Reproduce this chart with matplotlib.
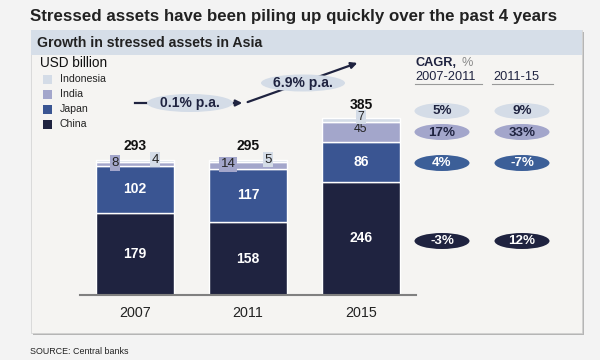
import numpy as np
import matplotlib.pyplot as plt
from matplotlib.patches import Rectangle, Ellipse

plt.rcParams['font.family'] = ['Liberation Sans', 'DejaVu Sans']

# datos
years = ["2007", "2011", "2015"]
series = ["China", "Japan", "India", "Indonesia"]
china = [179, 158, 246]
japan = [102, 117, 86]
india = [8, 14, 45]
indonesia = [4, 5, 7]
totals = [293, 295, 385]
cagr_periods = ["2007-2011", "2011-15"]
cagr_indonesia = ["5%", "9%"]
cagr_india = ["17%", "33%"]
cagr_japan = ["4%", "-7%"]
cagr_china = ["-3%", "12%"]
growth_labels = ["0.1% p.a.", "6.9% p.a."]

colors = {
    "China": "#1f2340",
    "Japan": "#3a5592",
    "India": "#a3a6cb",
    "Indonesia": "#d4dce7",
}
dark = "#1f2340"

fig = plt.figure(figsize=(6, 3.6), dpi=100)
fig.patch.set_facecolor("#f3f3f3")

# fondo en pixeles
bg = fig.add_axes([0, 0, 1, 1], zorder=0)
bg.set_xlim(0, 600)
bg.set_ylim(360, 0)
bg.axis("off")

bg.add_patch(Rectangle((33, 32), 551, 303, facecolor="#b5b5b5", edgecolor="none"))
bg.add_patch(Rectangle((31, 30), 551, 303, facecolor="#f5f4f2", edgecolor="#d0d0d0", lw=0.5))
bg.add_patch(Rectangle((31, 30), 551, 25, facecolor="#d6dee8", edgecolor="none"))

bg.text(30, 16, "Stressed assets have been piling up quickly over the past 4 years",
        fontsize=12.2, fontweight="bold", color="#222222", va="center")
bg.text(37, 43, "Growth in stressed assets in Asia", fontsize=10.2,
        fontweight="bold", color="#222222", va="center")
bg.text(30, 352, "SOURCE: Central banks", fontsize=6.4, color="#222222", va="center")

# leyenda
bg.text(40, 63, "USD billion", fontsize=9.8, color="#111111", va="center")
for i, s in enumerate(["Indonesia", "India", "Japan", "China"]):
    y = 79 + i * 15
    bg.add_patch(Rectangle((43, y - 4.5), 9, 9, facecolor=colors[s], edgecolor="none"))
    bg.text(60, y, s, fontsize=7.6, color="#222222", va="center")

# flechas de crecimiento
bg.plot([135, 147], [103, 103], color=dark, lw=1.6)
bg.annotate("", xy=(245, 103), xytext=(228, 103),
            arrowprops=dict(arrowstyle="-|>", color=dark, lw=1.6, mutation_scale=9))
bg.annotate("", xy=(360, 62), xytext=(245, 103),
            arrowprops=dict(arrowstyle="-|>", color=dark, lw=1.6, mutation_scale=9))
bg.add_patch(Ellipse((190, 103), 86, 18, facecolor="#d4dce7", edgecolor="none", zorder=3))
bg.text(190, 103, growth_labels[0], fontsize=10, fontweight="bold", color=dark,
        ha="center", va="center", zorder=4)
bg.add_patch(Ellipse((303, 83), 84, 17, facecolor="#d4dce7", edgecolor="none", zorder=3))
bg.text(303, 83, growth_labels[1], fontsize=10, fontweight="bold", color=dark,
        ha="center", va="center", zorder=4)

# CAGR
bg.text(415, 63, "CAGR,", fontsize=9.2, fontweight="bold", color=dark, va="center")
bg.text(462, 63, "%", fontsize=9.2, color="#888888", va="center")
col_x = [442, 522]
head_x = [415, 493]
for j, p in enumerate(cagr_periods):
    bg.text(head_x[j], 76.5, p, fontsize=9.2, color=dark, va="center")
bg.plot([415, 482], [84, 84], color="#999999", lw=0.8)
bg.plot([492, 553], [84, 84], color="#999999", lw=0.8)

rows = [
    (cagr_indonesia, 111, colors["Indonesia"], dark),
    (cagr_india, 132, colors["India"], dark),
    (cagr_japan, 163, "#3c5f98", "white"),
    (cagr_china, 241, colors["China"], "white"),
]
for vals, y, fc, tc in rows:
    for j, v in enumerate(vals):
        bg.add_patch(Ellipse((col_x[j], y), 55, 16, facecolor=fc, edgecolor="none"))
        bg.text(col_x[j], y + 0.5, v, fontsize=9.6, fontweight="bold", color=tc,
                ha="center", va="center")

# barras
ax = fig.add_axes([80 / 600, 65 / 360, 336 / 600, 184 / 360], zorder=1)
ax.set_facecolor("none")
x = np.arange(len(years))
w = 0.69
bottom = np.zeros(len(years))
for s, vals in zip(series, [china, japan, india, indonesia]):
    ax.bar(x, vals, w, bottom=bottom, color=colors[s], edgecolor="white", linewidth=1)
    bottom += np.array(vals)

ax.set_xlim(-0.487, 2.487)
ax.set_ylim(0, 400)
for sp in ["top", "right", "left"]:
    ax.spines[sp].set_visible(False)
ax.spines["bottom"].set_color("#808080")
ax.spines["bottom"].set_linewidth(1.5)
ax.set_yticks([])
ax.set_xticks(x)
ax.set_xticklabels(years, fontsize=10.3, color="#222222")
ax.tick_params(axis="x", length=0, pad=8)

for i in range(len(years)):
    ax.text(x[i], china[i] / 2, str(china[i]), ha="center", va="center",
            fontsize=10, fontweight="bold", color="white")
    ax.text(x[i], china[i] + japan[i] / 2, str(japan[i]), ha="center", va="center",
            fontsize=10, fontweight="bold", color="white")
    ax.text(x[i], totals[i] + (30 if i < 2 else 29), str(totals[i]),
            ha="center", va="center", fontsize=10, fontweight="bold", color="#111111")

# etiquetas pequeñas con caja
box = lambda c: dict(boxstyle="square,pad=0.12", facecolor=c, edgecolor="none")
for i in range(2):
    top_j = china[i] + japan[i]
    ax.text(x[i] - 0.177, top_j + india[i] / 2 + 2, str(india[i]), ha="center", va="center",
            fontsize=9.5, color="#222222", bbox=box(colors["India"]))
    ax.text(x[i] + 0.177, top_j + india[i] + indonesia[i] / 2 + 3, str(indonesia[i]),
            ha="center", va="center", fontsize=9.5, color="#222222", bbox=box(colors["Indonesia"]))
top_j = china[2] + japan[2]
ax.text(x[2], top_j + india[2] / 2 + 7, str(india[2]), ha="center", va="center",
        fontsize=8.8, color="#222222")
ax.text(x[2], totals[2] + 2, str(indonesia[2]), ha="center", va="center",
        fontsize=8.8, color="#222222", bbox=box(colors["Indonesia"]))

fig.savefig("out.png", dpi=100, facecolor=fig.get_facecolor())
